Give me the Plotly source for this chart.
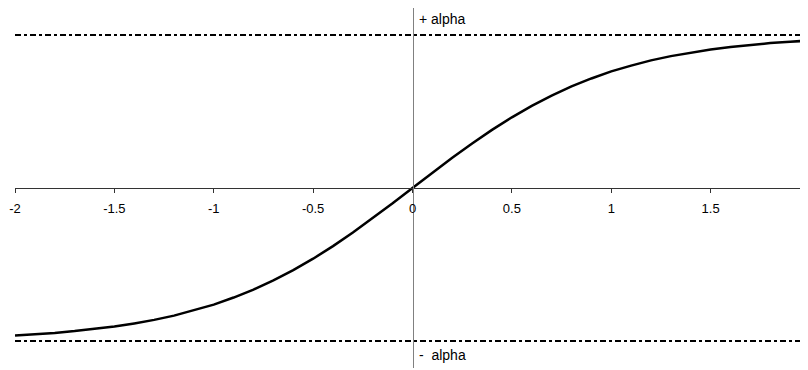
import plotly.graph_objects as go

# curve (y in units of alpha)
xVals = [-2.0, -1.9, -1.8, -1.7, -1.6, -1.5, -1.4, -1.3, -1.2, -1.1, -1.0,
         -0.9, -0.8, -0.7, -0.6, -0.5, -0.4, -0.3, -0.2, -0.1, 0.0,
         0.1, 0.2, 0.3, 0.4, 0.5, 0.6, 0.7, 0.8, 0.9, 1.0,
         1.1, 1.2, 1.3, 1.4, 1.5, 1.6, 1.7, 1.8, 1.9, 2.0]
yVals = [-0.964, -0.956, -0.947, -0.935, -0.922, -0.905, -0.885, -0.862, -0.834, -0.800, -0.762,
         -0.716, -0.664, -0.604, -0.537, -0.462, -0.380, -0.291, -0.197, -0.100, 0.0,
         0.100, 0.197, 0.291, 0.380, 0.462, 0.537, 0.604, 0.664, 0.716, 0.762,
         0.800, 0.834, 0.862, 0.885, 0.905, 0.922, 0.935, 0.947, 0.956, 0.964]

alphaLevels = [1.0, -1.0]
alphaLabels = ['+ alpha', '-  alpha']
tickVals    = [-2, -1.5, -1, -0.5, 0, 0.5, 1, 1.5, 2]
tickText    = ['-2', '-1.5', '-1', '-0.5', '0', '0.5', '1', '1.5', '2']

fig = go.Figure()

for lvl in alphaLevels:
    fig.add_trace(go.Scatter(x=[-2, 2], y=[lvl, lvl], mode='lines',
                             line=dict(color='black', width=2, dash='6px,3px,3px,3px'),
                             hoverinfo='skip', showlegend=False, cliponaxis=False))

fig.add_trace(go.Scatter(x=xVals, y=yVals, mode='lines',
                         line=dict(color='black', width=2.5),
                         showlegend=False, cliponaxis=False))

# the page body has an 8px margin, so the margins here are shifted by 8px
fig.update_layout(
    width=808, height=370,
    margin=dict(l=7, r=6, t=0, b=10),
    paper_bgcolor='white', plot_bgcolor='white',
    font=dict(family='Liberation Sans, Arial, sans-serif', size=13, color='black'),
    xaxis=dict(range=[-2, 2], anchor='free', position=0.5,
               tickvals=tickVals, ticktext=tickText,
               showline=True, linecolor='#333333', linewidth=1,
               ticks='outside', ticklen=4, tickcolor='#333333',
               ticklabelstandoff=4,
               showgrid=False, zeroline=False, tickfont=dict(size=13)),
    yaxis=dict(range=[-180/153, 180/153], anchor='free', position=0.5,
               showline=True, linecolor='#808080', linewidth=1,
               showticklabels=False, ticks='', showgrid=False, zeroline=False),
)

fig.add_annotation(x=0, y=1.0, xref='x', yref='y', text=alphaLabels[0],
                   showarrow=False, xanchor='left', yanchor='bottom',
                   xshift=4, yshift=6, font=dict(size=14))
fig.add_annotation(x=0, y=-1.0, xref='x', yref='y', text=alphaLabels[1],
                   showarrow=False, xanchor='left', yanchor='top',
                   xshift=4, yshift=-4, font=dict(size=14))

fig.write_html("out.html")
